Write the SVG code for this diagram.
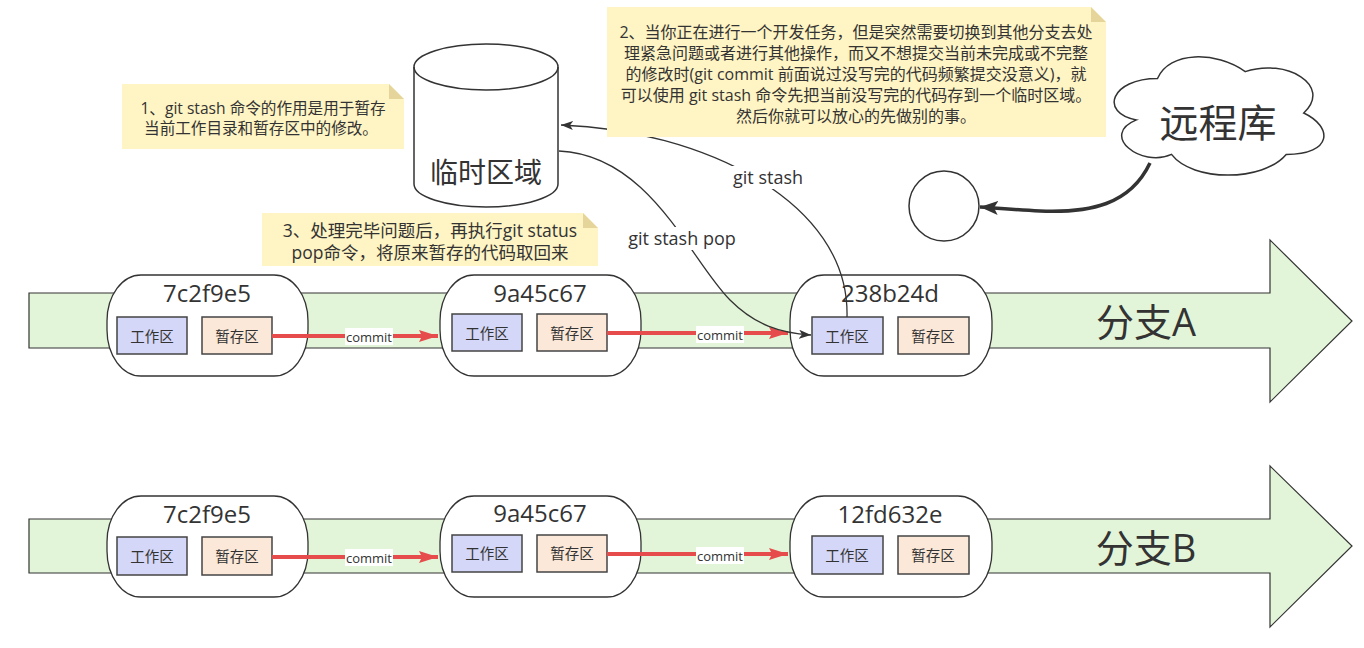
<svg xmlns="http://www.w3.org/2000/svg" width="1364" height="648" viewBox="0 0 1364 648">
<style>
text{font-family:"Open Sans","Noto Sans CJK SC",sans-serif;fill:#333;text-anchor:middle;dominant-baseline:central}
.branch{fill:#e3f5d8;stroke:#333;stroke-width:1.2}
.commit{fill:#fff;stroke:#333;stroke-width:1.3}
.wk{fill:#d4d7f7;stroke:#444;stroke-width:1.5}
.st{fill:#fbe8d8;stroke:#444;stroke-width:1.5}
.note{fill:#fff4c3}
.fold{fill:#e6d59a}
.hash{font-size:24px}
.box{font-size:14.5px}
.red{fill:none;stroke:#e74c4c;stroke-width:4;marker-end:url(#ra)}
.lbl{font-size:13px}
.dark{fill:none;stroke:#333;stroke-width:1.3;marker-end:url(#da)}
</style>
<defs>
<marker id="ra" markerUnits="userSpaceOnUse" markerWidth="20" markerHeight="14" refX="19" refY="6" orient="auto">
<path d="M0,0 L19,6 L0,12 L3,6 Z" fill="#e74c4c"/>
</marker>
<marker id="da" markerUnits="userSpaceOnUse" markerWidth="14" markerHeight="10" refX="12" refY="4.5" orient="auto">
<path d="M0,0 L12,4.5 L0,9 L3,4.5 Z" fill="#333"/>
</marker>
<marker id="ta" markerUnits="userSpaceOnUse" markerWidth="20" markerHeight="16" refX="18" refY="7" orient="auto">
<path d="M0,0 L18,7 L0,14 L4,7 Z" fill="#333"/>
</marker>
</defs>

<g id="branchA">
<polygon class="branch" points="29,293 1270,293 1270,240 1352,321 1270,402 1270,348 29,348"/>
<text x="1146" y="321" style="font-size:38px">分支A</text>
</g>
<g id="branchB">
<polygon class="branch" points="29,519 1270,519 1270,466 1352,546 1270,627 1270,573 29,573"/>
<text x="1146" y="547" style="font-size:38px">分支B</text>
</g>

<g id="commitA1">
<rect class="commit" x="107" y="275" width="201" height="101" rx="34" ry="46"/>
<text class="hash" x="207" y="292">7c2f9e5</text>
<rect class="wk" x="117" y="317" width="70" height="37"/><text class="box" x="152" y="336">工作区</text>
<rect class="st" x="202" y="317" width="70" height="37"/><text class="box" x="237" y="336">暂存区</text>
</g>
<g id="commitA2">
<rect class="commit" x="440" y="275" width="201" height="101" rx="34" ry="46"/>
<text class="hash" x="540" y="292">9a45c67</text>
<rect class="wk" x="452" y="314" width="70" height="37"/><text class="box" x="487" y="333">工作区</text>
<rect class="st" x="537" y="314" width="70" height="37"/><text class="box" x="572" y="333">暂存区</text>
</g>
<g id="commitA3">
<rect class="commit" x="790" y="275" width="202" height="101" rx="34" ry="46"/>
<text class="hash" x="890" y="292">238b24d</text>
<rect class="wk" x="812" y="317" width="71" height="37"/><text class="box" x="847" y="336">工作区</text>
<rect class="st" x="898" y="317" width="71" height="37"/><text class="box" x="933" y="336">暂存区</text>
</g>
<g id="commitB1">
<rect class="commit" x="107" y="496" width="201" height="101" rx="34" ry="46"/>
<text class="hash" x="207" y="513">7c2f9e5</text>
<rect class="wk" x="117" y="537" width="70" height="38"/><text class="box" x="152" y="556">工作区</text>
<rect class="st" x="202" y="537" width="70" height="38"/><text class="box" x="237" y="556">暂存区</text>
</g>
<g id="commitB2">
<rect class="commit" x="440" y="496" width="201" height="101" rx="34" ry="46"/>
<text class="hash" x="540" y="512">9a45c67</text>
<rect class="wk" x="452" y="535" width="70" height="37"/><text class="box" x="487" y="553">工作区</text>
<rect class="st" x="537" y="535" width="70" height="37"/><text class="box" x="572" y="553">暂存区</text>
</g>
<g id="commitB3">
<rect class="commit" x="790" y="496" width="202" height="101" rx="34" ry="46"/>
<text class="hash" x="890" y="513">12fd632e</text>
<rect class="wk" x="812" y="536" width="71" height="38"/><text class="box" x="847" y="555">工作区</text>
<rect class="st" x="898" y="536" width="71" height="38"/><text class="box" x="933" y="555">暂存区</text>
</g>

<g id="stashArea">
<path d="M414,67 A72,23 0 0 1 558,67 L558,184 A72,23 0 0 1 414,184 Z" fill="#fff" stroke="#333" stroke-width="1.5"/>
<path d="M414,67 A72,23 0 0 0 558,67" fill="none" stroke="#333" stroke-width="1.5"/>
<text x="486" y="172" style="font-size:28px">临时区域</text>
</g>

<g id="remote">
<path d="M1157.5,78.5 C1110.7,78.5 1099,113 1136.4,119.9 C1099,135.1 1141.1,168.2 1171.5,154.4 C1192.6,182 1262.8,182 1286.2,154.4 C1333,154.4 1333,126.8 1303.75,113 C1333,85.4 1286.2,57.8 1245.25,71.6 C1216,50.9 1169.2,50.9 1157.5,78.5 Z" fill="#fff" stroke="#333" stroke-width="1.5"/>
<text x="1218" y="121" style="font-size:39px">远程库</text>
</g>

<g id="circle">
<circle cx="944" cy="206" r="35" fill="#fff" stroke="#333" stroke-width="1.5"/>
</g>

<g id="connectors">
<path class="red" d="M272,336 L438,336"/>
<rect x="345" y="328" width="48" height="17" fill="#fff"/><text class="lbl" x="369" y="336.5">commit</text>
<path class="red" d="M607,333 L788,333"/>
<rect x="696" y="326" width="48" height="17" fill="#fff"/><text class="lbl" x="720" y="334.5">commit</text>
<path class="red" d="M272,557 L438,557"/>
<rect x="345" y="549" width="48" height="17" fill="#fff"/><text class="lbl" x="369" y="557.5">commit</text>
<path class="red" d="M607,554 L788,554"/>
<rect x="696" y="547" width="48" height="17" fill="#fff"/><text class="lbl" x="720" y="555.5">commit</text>

<path class="dark" d="M847,317 C850,200 700,130 561,125"/>
<rect x="731" y="166" width="74" height="23" fill="#fff"/>
<text x="768" y="177" style="font-size:18px">git stash</text>

<path class="dark" d="M559,151 C650,155 690,260 730,300 C755,325 780,333 811,335"/>
<rect x="626" y="227" width="112" height="23" fill="#fff"/>
<text x="682" y="238" style="font-size:18px">git stash pop</text>

<path d="M1150,163 C1130,205 1090,213 1040,211 C1015,210 1000,208 980,207" fill="none" stroke="#333" stroke-width="3.5" marker-end="url(#ta)"/>
</g>

<g id="note1">
<path class="note" d="M122,84 L389,84 L404,99 L404,149 L122,149 Z"/>
<path class="fold" d="M389,84 L389,99 L404,99 Z"/>
<text style="font-size:15.6px"><tspan x="263" y="108">1、git stash 命令的作用是用于暂存</tspan><tspan x="261" y="128">当前工作目录和暂存区中的修改。</tspan></text>
</g>
<g id="note2">
<path class="note" d="M607,7 L1091,7 L1106,22 L1106,137 L607,137 Z"/>
<path class="fold" d="M1091,7 L1091,22 L1106,22 Z"/>
<text style="font-size:16px"><tspan x="856" y="32">2、当你正在进行一个开发任务，但是突然需要切换到其他分支去处</tspan><tspan x="856" y="53">理紧急问题或者进行其他操作，而又不想提交当前未完成或不完整</tspan><tspan x="856" y="74">的修改时(git commit 前面说过没写完的代码频繁提交没意义)，就</tspan><tspan x="856" y="95">可以使用 git stash 命令先把当前没写完的代码存到一个临时区域。</tspan><tspan x="856" y="116">然后你就可以放心的先做别的事。</tspan></text>
</g>
<g id="note3">
<path class="note" d="M262,213 L583,213 L598,228 L598,266 L262,266 Z"/>
<path class="fold" d="M583,213 L583,228 L598,228 Z"/>
<text style="font-size:17.5px"><tspan x="430" y="230">3、处理完毕问题后，再执行git status</tspan><tspan x="430" y="252">pop命令，将原来暂存的代码取回来</tspan></text>
</g>
</svg>
